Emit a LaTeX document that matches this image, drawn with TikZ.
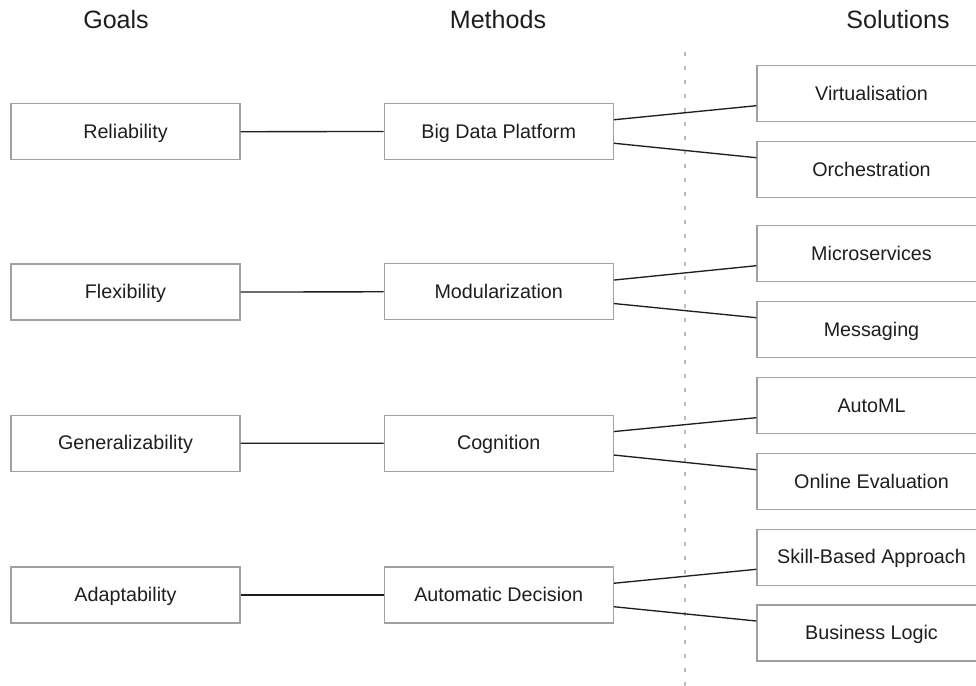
\documentclass[tikz,border=0pt]{standalone}
\usepackage{fontspec}
\setmainfont{Liberation Sans}
\definecolor{boxline}{HTML}{A0A0A0}
\definecolor{txt}{HTML}{1E1E1E}
\definecolor{conn}{HTML}{1E1E1E}
\definecolor{dotc}{HTML}{BDBDBD}
\begin{document}
\begin{tikzpicture}[x=0.75pt,y=-0.75pt,
  box/.style={draw=boxline,line width=1pt,fill=white,minimum width=171.75pt,minimum height=42pt,inner sep=0pt,text=txt,text height=10pt,text depth=0pt,font=\fontsize{14.8pt}{17pt}\selectfont},
  head/.style={text=txt,inner sep=0pt,font=\fontsize{18.8pt}{22pt}\selectfont},
  conn/.style={draw=conn,line width=1pt},
  sep/.style={draw=dotc,line width=1.6pt,dash pattern=on 3pt off 7.5pt}]
\useasboundingbox (0,0) rectangle (976,686);
\fill[white] (0,0) rectangle (976,686);
% separator
\coordinate (dtop) at (685,52);
\coordinate (dbot) at (685,690);
\draw[sep] (dtop) -- (dbot);
% headers
\node[head] (hg) at (116,20) {Goals};
\node[head] (hm) at (498,20) {Methods};
\node[head] (hs) at (898,20) {Solutions};
% goals
\node[box] (g1) at (125.5,131.7) {Reliability};
\node[box] (g2) at (125.5,292) {Flexibility};
\node[box] (g3) at (125.5,443.2) {Generalizability};
\node[box] (g4) at (125.5,595) {Adaptability};
% methods
\node[box] (m1) at (498.7,131.5) {Big Data Platform};
\node[box] (m2) at (498.7,291.8) {Modularization};
\node[box] (m3) at (498.7,443.3) {Cognition};
\node[box] (m4) at (498.7,595) {Automatic Decision};
% solutions
\node[box] (s1) at (871.5,93.7) {Virtualisation};
\node[box] (s2) at (871.5,169.7) {Orchestration};
\node[box] (s3) at (871.5,253.7) {Microservices};
\node[box] (s4) at (871.5,329.7) {Messaging};
\node[box] (s5) at (871.5,405.7) {AutoML};
\node[box] (s6) at (871.5,481.7) {Online Evaluation};
\node[box] (s7) at (871.5,557.3) {Skill-Based Approach};
\node[box] (s8) at (871.5,633) {Business Logic};
% connectors
\foreach \i in {1,2,3,4}{\draw[conn] (g\i.east) -- (m\i.west);}
\draw[conn] ([yshift=8.8pt]m1.east) -- ([yshift=-9pt]s1.west);
\draw[conn] ([yshift=-8.8pt]m1.east) -- ([yshift=9pt]s2.west);
\draw[conn] ([yshift=8.8pt]m2.east) -- ([yshift=-9pt]s3.west);
\draw[conn] ([yshift=-8.8pt]m2.east) -- ([yshift=9pt]s4.west);
\draw[conn] ([yshift=8.8pt]m3.east) -- ([yshift=-9pt]s5.west);
\draw[conn] ([yshift=-8.8pt]m3.east) -- ([yshift=9pt]s6.west);
\draw[conn] ([yshift=8.8pt]m4.east) -- ([yshift=-9pt]s7.west);
\draw[conn] ([yshift=-8.8pt]m4.east) -- ([yshift=9pt]s8.west);
\end{tikzpicture}
\end{document}
